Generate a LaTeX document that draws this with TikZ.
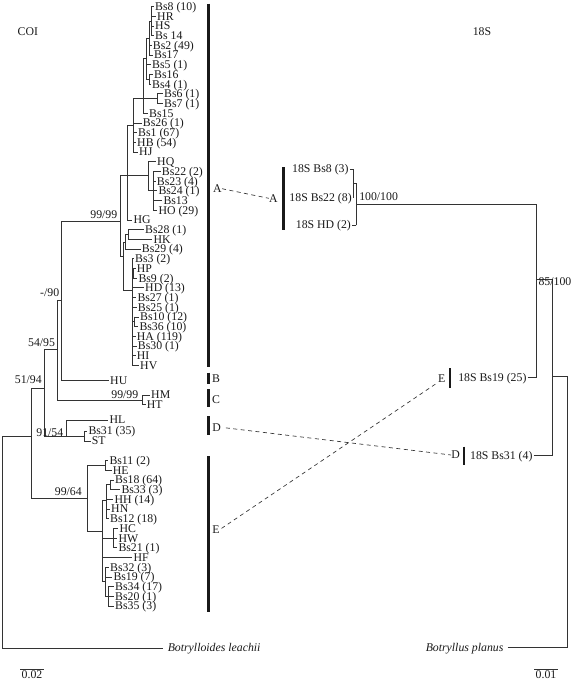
\documentclass[tikz,border=0pt]{standalone}
\usepackage{fontspec}
\setmainfont{Liberation Serif}
\newcommand\Lf[4]{\node[leaf] (#1) at (#2,#3) {#4};}
\newcommand\Tk[2]{\draw[br] (#1 |- #2.west) -- (#2.west);}
\newcommand\Ed[2]{\draw[br] (#1 |- #2) -- (#2);}
\newcommand\Vt[3]{\draw[br] (#1 |- #2) -- (#1 |- #3);}
\newcommand\RTk[2]{\draw[br] ([xshift=0.9pt]#2.east) -- (#1 |- #2.east);}
\tikzset{
 txt/.style={font=\fontsize{8.85}{10}\selectfont, inner sep=0pt, text height=5.9pt, text depth=0pt, text=black!90},
 ital/.style={txt, font=\fontsize{8.85}{10}\selectfont\itshape},
 leaf/.style={txt, anchor=west, inner xsep=1.1pt},
 supp/.style={txt, anchor=east},
 br/.style={line width=0.6pt, draw=black!80, line cap=rect},
 bar/.style={line width=2.2pt, draw=black!90},
 dsh/.style={line width=0.5pt, draw=black!80, dash pattern=on 3pt off 2.6pt},
}
\begin{document}
\begin{tikzpicture}[x=0.75pt,y=-0.75pt]
\useasboundingbox (0,0) rectangle (572,683);
% ---------- COI leaves ----------
\Lf{bs8}{153.5}{6.5}{Bs8 (10)}
\Lf{hr}{155.5}{16.2}{HR}
\Lf{hs}{153.5}{25.9}{HS}
\Lf{bsxiv}{153.5}{35.6}{Bs 14}
\Lf{bs2}{151.2}{45.3}{Bs2 (49)}
\Lf{bs17}{152.5}{55}{Bs17}
\Lf{bs5}{150.5}{64.7}{Bs5 (1)}
\Lf{bs16}{152.5}{74.4}{Bs16}
\Lf{bs4}{150.5}{84.1}{Bs4 (1)}
\Lf{bs6}{162.5}{93.8}{Bs6 (1)}
\Lf{bs7}{162.5}{103.5}{Bs7 (1)}
\Lf{bs15}{147.5}{113.2}{Bs15}
\Lf{bs26}{141.2}{122.9}{Bs26 (1)}
\Lf{bs1}{136.5}{132.6}{Bs1 (67)}
\Lf{hb}{135.5}{142.3}{HB (54)}
\Lf{hj}{137.5}{152}{HJ}
\Lf{hq}{155.5}{161.7}{HQ}
\Lf{bs22}{160.2}{171.4}{Bs22 (2)}
\Lf{bs23}{155.2}{181.1}{Bs23 (4)}
\Lf{bs24}{156.8}{190.8}{Bs24 (1)}
\Lf{bs13}{161.8}{200.5}{Bs13}
\Lf{ho}{156.8}{210.2}{HO (29)}
\Lf{hg}{131.8}{219.9}{HG}
\Lf{bs28}{143.5}{229.6}{Bs28 (1)}
\Lf{hk}{151.8}{239.3}{HK}
\Lf{bs29}{140.2}{249}{Bs29 (4)}
\Lf{bs3}{133.5}{258.7}{Bs3 (2)}
\Lf{hp}{135.2}{268.4}{HP}
\Lf{bs9}{136.8}{278.1}{Bs9 (2)}
\Lf{hd}{143.5}{287.8}{HD (13)}
\Lf{bs27}{135.8}{297.5}{Bs27 (1)}
\Lf{bs25}{136.2}{307.2}{Bs25 (1)}
\Lf{bs10}{138.5}{316.9}{Bs10 (12)}
\Lf{bs36}{137.8}{326.6}{Bs36 (10)}
\Lf{ha}{135.2}{336.3}{HA (119)}
\Lf{bs30}{136.2}{346}{Bs30 (1)}
\Lf{hi}{135.2}{355.7}{HI}
\Lf{hv}{138.5}{365.4}{HV}
\Lf{hu}{108.5}{380.7}{HU}
\Lf{hm}{149.5}{395}{HM}
\Lf{ht}{145.2}{404.7}{HT}
\Lf{hl}{107.8}{420}{HL}
\Lf{bs31}{86.8}{431}{Bs31 (35)}
\Lf{st}{90.2}{441}{ST}
\Lf{bs11}{107.8}{460.5}{Bs11 (2)}
\Lf{he}{111.2}{470.2}{HE}
\Lf{bs18}{113.5}{479.9}{Bs18 (64)}
\Lf{bs33}{119.8}{489.6}{Bs33 (3)}
\Lf{hh}{112.8}{499.3}{HH (14)}
\Lf{hn}{109.5}{509}{HN}
\Lf{bs12}{108.5}{518.7}{Bs12 (18)}
\Lf{hc}{117.8}{528.4}{HC}
\Lf{hw}{116.8}{538.1}{HW}
\Lf{bs21}{116.8}{547.8}{Bs21 (1)}
\Lf{hf}{131.8}{557.5}{HF}
\Lf{bs32}{108.5}{567.2}{Bs32 (3)}
\Lf{bs19}{111.8}{576.9}{Bs19 (7)}
\Lf{bs34}{113.5}{586.6}{Bs34 (17)}
\Lf{bs20}{113.5}{596.3}{Bs20 (1)}
\Lf{bs35}{113.5}{606}{Bs35 (3)}
\node[ital, anchor=west] (bleach) at (167.5,648) {Botrylloides leachii};
% ---------- COI internal nodes ----------
\coordinate (na) at (151.5,21);
\coordinate (nb) at (149.5,38);
\coordinate (nc) at (149.5,79.3);
\coordinate (nd) at (146.5,58);
\coordinate (ne) at (157.5,98.7);
\coordinate (nf) at (143.5,98.7);
\coordinate (ng) at (133,125);
\coordinate (ns) at (153,190);
\coordinate (nq) at (148.3,175);
\coordinate (nu) at (127,175);
\coordinate (nk) at (128.3,234.5);
\coordinate (nkk) at (125.5,242);
\coordinate (nph) at (133.5,273.2);
\coordinate (nbp) at (134.5,321.7);
\coordinate (np) at (132,290);
\coordinate (nl) at (123.5,256.7);
\coordinate (nA) at (120,221);
\coordinate (nn) at (61.7,300);
\coordinate (nC) at (142,400);
\coordinate (nfv) at (57,349);
\coordinate (nst) at (84.3,436.5);
\coordinate (nD) at (66.7,436.5);
\coordinate (nfo) at (44.3,388);
\coordinate (nEi) at (105,465.3);
\coordinate (nEp) at (110,484.7);
\coordinate (nEa) at (106.5,500);
\coordinate (nEb) at (113.3,538.1);
\coordinate (nEcc) at (108.3,596.3);
\coordinate (nEc) at (105.5,581);
\coordinate (nEt) at (102.7,531);
\coordinate (nE) at (87.3,498.3);
\coordinate (nin) at (31,436);
\coordinate (rt) at (2,436);
% verticals
\Vt{na}{bs8}{bsxiv}
\Vt{nb}{na}{bs17}
\Vt{nc}{bs16}{bs4}
\Vt{nd}{nb}{nc}
\Vt{ne}{bs6}{bs7}
\Vt{nf}{nd}{bs15}
\Vt{ng}{nf}{hj}
\Vt{ns}{bs22}{ho}
\Vt{nq}{hq}{ns}
\Vt{nu}{ng}{hg}
\Vt{nk}{bs28}{hk}
\Vt{nkk}{nk}{bs29}
\Vt{nph}{hp}{bs9}
\Vt{nbp}{bs10}{bs36}
\Vt{np}{bs3}{hv}
\Vt{nl}{nkk}{np}
\Vt{nA}{nu}{nl}
\Vt{nn}{nA}{hu}
\Vt{nC}{hm}{ht}
\Vt{nfv}{nn}{nC}
\Vt{nst}{bs31}{st}
\Vt{nD}{hl}{nst}
\Vt{nfo}{nfv}{nD}
\Vt{nEi}{bs11}{he}
\Vt{nEp}{bs18}{bs33}
\Vt{nEa}{nEp}{bs12}
\Vt{nEb}{hc}{bs21}
\Vt{nEcc}{bs34}{bs35}
\Vt{nEc}{bs32}{nEcc}
\Vt{nEt}{nEa}{nEc}
\Vt{nE}{nEi}{nEt}
\Vt{nin}{nfo}{nE}
\Vt{rt}{nin}{bleach}
% horizontals
\Tk{na}{bs8}\Tk{na}{hr}\Tk{na}{hs}\Tk{na}{bsxiv}
\Ed{nb}{na}\Tk{nb}{bs2}\Tk{nb}{bs17}
\Tk{nc}{bs16}\Tk{nc}{bs4}
\Ed{nd}{nb}\Tk{nd}{bs5}\Ed{nd}{nc}
\Tk{ne}{bs6}\Tk{ne}{bs7}
\Ed{nf}{nd}\Ed{nf}{ne}\Tk{nf}{bs15}
\Ed{ng}{nf}\Tk{ng}{bs26}\Tk{ng}{bs1}\Tk{ng}{hb}\Tk{ng}{hj}
\Tk{ns}{bs22}\Tk{ns}{bs23}\Tk{ns}{bs24}\Tk{ns}{bs13}\Tk{ns}{ho}
\Tk{nq}{hq}\Ed{nq}{ns}
\Ed{nu}{ng}\Ed{nu}{nq}\Tk{nu}{hg}
\Tk{nk}{bs28}\Tk{nk}{hk}
\Ed{nkk}{nk}\Tk{nkk}{bs29}
\Tk{nph}{hp}\Tk{nph}{bs9}
\Tk{nbp}{bs10}\Tk{nbp}{bs36}
\Tk{np}{bs3}\Ed{np}{nph}\Tk{np}{hd}\Tk{np}{bs27}\Tk{np}{bs25}\Ed{np}{nbp}\Tk{np}{ha}\Tk{np}{bs30}\Tk{np}{hi}\Tk{np}{hv}
\Ed{nl}{nkk}\Ed{nl}{np}
\Ed{nA}{nu}\Ed{nA}{nl}
\Ed{nn}{nA}\Tk{nn}{hu}
\Tk{nC}{hm}\Tk{nC}{ht}
\Ed{nfv}{nn}\Ed{nfv}{nC}
\Tk{nst}{bs31}\Tk{nst}{st}
\Tk{nD}{hl}\Ed{nD}{nst}
\Ed{nfo}{nfv}\Ed{nfo}{nD}
\Tk{nEi}{bs11}\Tk{nEi}{he}
\Tk{nEp}{bs18}\Tk{nEp}{bs33}
\Ed{nEa}{nEp}\Tk{nEa}{hh}\Tk{nEa}{hn}\Tk{nEa}{bs12}
\Tk{nEb}{hc}\Tk{nEb}{hw}\Tk{nEb}{bs21}
\Tk{nEcc}{bs34}\Tk{nEcc}{bs20}\Tk{nEcc}{bs35}
\Tk{nEc}{bs32}\Tk{nEc}{bs19}\Ed{nEc}{nEcc}
\Ed{nEt}{nEa}\Ed{nEt}{nEb}\Tk{nEt}{hf}\Ed{nEt}{nEc}
\Ed{nE}{nEi}\Ed{nE}{nEt}
\Ed{nin}{nfo}\Ed{nin}{nE}
\Ed{rt}{nin}
\draw[br] (rt |- bleach.west) -- ([xshift=-4pt]bleach.west);
% support values
\node[supp] (s1) at (117.5,214.3) {99/99};
\node[supp] (s2) at (59.5,292.3) {-/90};
\node[supp] (s3) at (55.3,342.3) {54/95};
\node[supp] (s4) at (42,379.3) {51/94};
\node[supp] (s5) at (138.5,395) {99/99};
\node[supp] (s6) at (63.5,432.3) {91/54};
\node[supp] (s7) at (82,491.7) {99/64};
% ---------- groups ----------
\draw[bar] (208.3,3.5) -- (208.3,366.7);
\draw[bar] (208.3,372.7) -- (208.3,384);
\draw[bar] (208.3,389) -- (208.3,406.7);
\draw[bar] (208.3,416) -- (208.3,435);
\draw[bar] (208.3,456) -- (208.3,611.7);
\node[txt] (lA) at (217.5,188.7) {A};
\node[txt] (lB) at (216,378.3) {B};
\node[txt] (lC) at (216,399.3) {C};
\node[txt] (lD) at (216.7,427.3) {D};
\node[txt] (lE) at (216,529.5) {E};
\node[txt] (rA) at (273.3,198.3) {A};
\node[txt] (rE) at (441.7,378.3) {E};
\node[txt] (rD) at (455.7,455) {D};
\draw[bar] (283.3,167.3) -- (283.3,230);
\draw[bar] (450,368.3) -- (450,388.3);
\draw[bar] (464,446.7) -- (464,465);
\draw[dsh] (lA.east) -- (rA.west);
\draw[dsh, shorten <=3.5pt] (lD.east) -- (rD.west);
\draw[dsh, shorten <=1.5pt, shorten >=1pt] (lE.east) -- (rE.south west);
% ---------- 18S tree ----------
\node[txt, anchor=east] (rbs8) at (348.8,169) {18S Bs8 (3)};
\node[txt, anchor=east] (rbs22) at (352,197.7) {18S Bs22 (8)};
\node[txt, anchor=east] (rhd) at (351.2,225) {18S HD (2)};
\node[txt, anchor=east] (rbs19) at (526.7,377.3) {18S Bs19 (25)};
\node[txt, anchor=east] (rbs31) at (532.7,455.7) {18S Bs31 (4)};
\node[ital, anchor=east] (bplan) at (503.7,647.3) {Botryllus planus};
\coordinate (ra) at (353.3,183.3);
\coordinate (rb) at (356,204);
\coordinate (rc) at (536.7,279.3);
\coordinate (rd) at (552.3,376.7);
\coordinate (re) at (567.7,376.7);
\Vt{ra}{rbs8}{rbs22}\RTk{ra}{rbs8}\RTk{ra}{rbs22}
\Vt{rb}{ra}{rhd}\Ed{rb}{ra}\RTk{rb}{rhd}
\Vt{rc}{rb}{rbs19}\Ed{rc}{rb}\RTk{rc}{rbs19}
\Vt{rd}{rc}{rbs31}\Ed{rd}{rc}\RTk{rd}{rbs31}
\Vt{re}{rd}{bplan}\Ed{re}{rd}
\draw[br] ([xshift=3.2pt]bplan.east) -- (re |- bplan.east);
\node[txt, anchor=west] (s8) at (359,196.7) {100/100};
\node[txt, anchor=north west] (s9) at (538.3,277.7) {85/100};
% ---------- titles and scales ----------
\node[txt] (coi) at (27.8,31.7) {COI};
\node[txt] (ess) at (482,31.5) {18S};
\draw[br, line cap=butt] (20,669) -- (43.8,669);
\node[txt, anchor=north] (sc1) at (32,670.8) {0.02};
\draw[br, line cap=butt] (534.3,669) -- (557.7,669);
\node[txt, anchor=north] (sc2) at (546,670.8) {0.01};
\end{tikzpicture}
\end{document}
